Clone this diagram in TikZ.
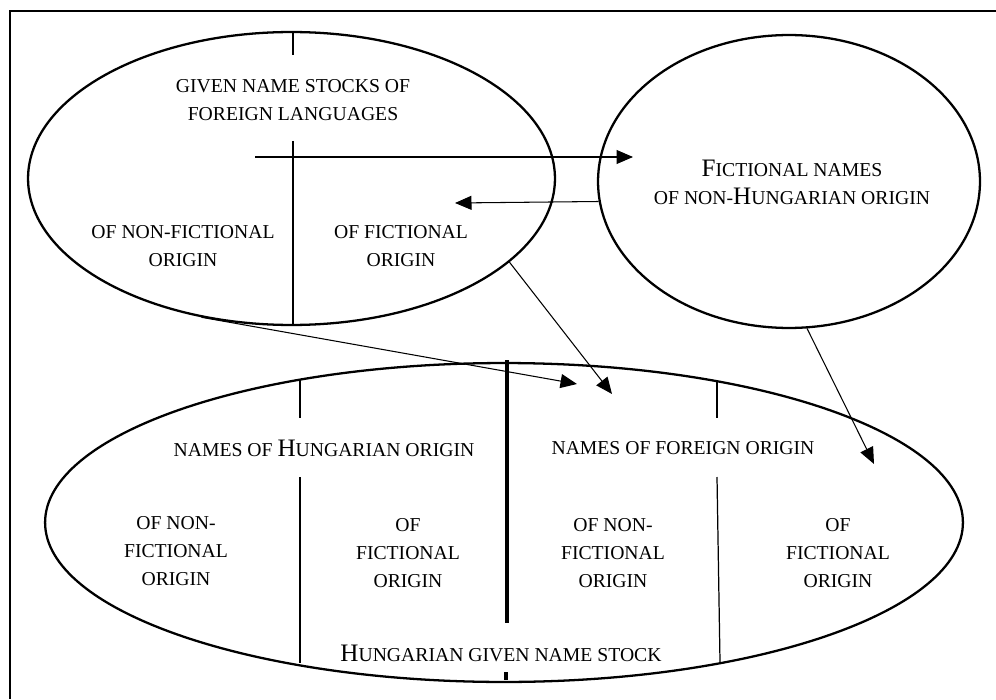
\documentclass[tikz,border=0pt]{standalone}
\usepackage{fontspec}
\setmainfont{Liberation Serif}
\usetikzlibrary{shapes.geometric,arrows.meta}
\newcommand{\lo}[1]{{\fontsize{11.2}{15.9}\selectfont #1}}
\begin{document}
\begin{tikzpicture}[x=0.02cm,y=0.02cm,
  oval/.style={draw, ellipse, line width=1.3pt, inner sep=0pt},
  txt/.style={align=center, inner sep=0pt, font=\fontsize{14.3}{15.9}\selectfont},
  arr/.style={draw, line width=0.6pt, -{Triangle[length=0.33cm,width=0.28cm]}},
  split/.style={draw, line width=0.7pt}]
\useasboundingbox (0,0) rectangle (996,-699);
\draw[line width=1.7pt] (996,-11) -- (10,-11) -- (10,-699);
% the three name stocks
\node[oval, minimum width=10.54cm, minimum height=5.86cm] (foreign) at (291.5,-178.5) {};
\node[oval, minimum width=7.64cm, minimum height=5.86cm] (fict) at (789,-181.5) {};
\node[oval, minimum width=18.36cm, minimum height=6.38cm] (hun) at (504,-522.5) {};
% texts
\node[txt] (stocks) at (293,-100) {\lo{GIVEN NAME STOCKS OF}\\\lo{FOREIGN LANGUAGES}};
\node[txt] (fnonfic) at (183,-246) {\lo{OF NON-FICTIONAL}\\\lo{ORIGIN}};
\node[txt] (ffic) at (401,-246) {\lo{OF FICTIONAL}\\\lo{ORIGIN}};
\node[txt] (fictnames) at (792,-182) {F\lo{ICTIONAL NAMES}\\\lo{OF NON-}H\lo{UNGARIAN ORIGIN}};
\node[txt] (hunorig) at (324,-448) {\lo{NAMES OF }H\lo{UNGARIAN ORIGIN}};
\node[txt] (fororig) at (683,-448) {\lo{NAMES OF FOREIGN ORIGIN}};
\node[txt] (hnonfic) at (176,-551) {\lo{OF NON-}\\\lo{FICTIONAL}\\\lo{ORIGIN}};
\node[txt] (hfic) at (408,-553) {\lo{OF}\\\lo{FICTIONAL}\\\lo{ORIGIN}};
\node[txt] (onnonfic) at (613,-553) {\lo{OF NON-}\\\lo{FICTIONAL}\\\lo{ORIGIN}};
\node[txt] (onfic) at (838,-553) {\lo{OF}\\\lo{FICTIONAL}\\\lo{ORIGIN}};
\node[txt] (hunstock) at (501,-653) {H\lo{UNGARIAN GIVEN NAME STOCK}};
% dividers
\path[split] (293,-32) -- (293,-55);
\path[split] (293,-141) -- (293,-325);
\path[split] (300,-380) -- (300,-418);
\path[split] (300,-477) -- (300,-663);
\path[split] (717,-382) -- (717,-418);
\path[split] (717,-477) -- (720,-662);
\path[draw, line width=2.2pt] (507,-360) -- (507,-623);
\path[draw, line width=2.2pt] (506,-672) -- (506,-680);
% arrows
\coordinate (src) at (255,-157);
\coordinate (tipa) at (633,-157);
\coordinate (tipb) at (455,-203);
\coordinate (tipc) at (577,-384);
\coordinate (tipd) at (612,-394);
\coordinate (tipe) at (874,-464);
\path[arr] (src) -- (tipa);
\path[arr] (fict.186.5) -- (tipb);
\path[arr] (foreign.237.7) -- (tipc);
\path[arr] (foreign.-21) -- (tipd);
\path[arr] (fict.-83) -- (tipe);
\end{tikzpicture}
\end{document}
